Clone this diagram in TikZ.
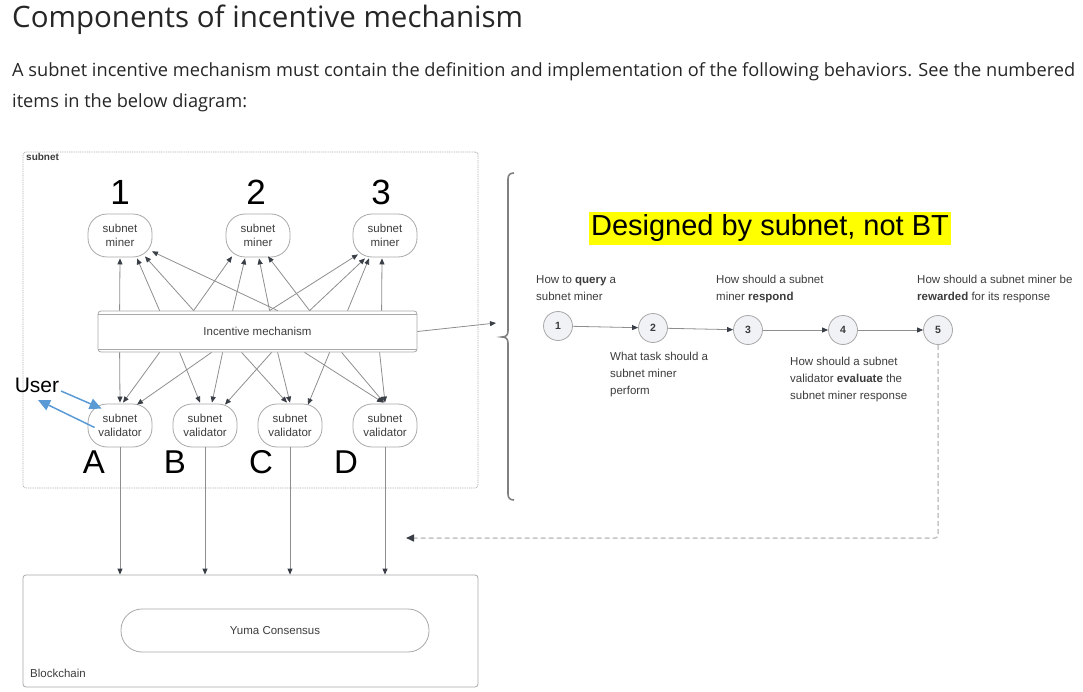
\documentclass[tikz,border=0pt]{standalone}
\usepackage{fontspec}
\setmainfont{Liberation Sans}
\newfontfamily\webfont{Open Sans}
\usetikzlibrary{arrows.meta,calc}
\definecolor{edgegray}{HTML}{8E8E8E}
\definecolor{tipgray}{HTML}{3A3F47}
\definecolor{boxgray}{HTML}{A8A8A8}
\definecolor{txtgray}{HTML}{3C3C3C}
\definecolor{userblue}{HTML}{5B9BD5}
\definecolor{circfill}{HTML}{F1F2F5}
\definecolor{hl}{HTML}{FFFF00}
\begin{document}
\begin{tikzpicture}[x=1pt,y=-1pt,
  edge/.style={draw=edgegray,line width=0.8pt,-{Triangle[length=6pt,width=5pt,color=tipgray]}},
  roundnode/.style={draw=boxgray,line width=0.8pt,rounded corners=19pt,minimum width=64pt,minimum height=43pt,align=center,font=\fontsize{11.5}{14}\selectfont,text=txtgray,inner sep=0pt},
  bignum/.style={font=\fontsize{35}{35}\selectfont,inner sep=0pt,text=black},
  bigletter/.style={font=\fontsize{33}{33}\selectfont,inner sep=0pt,text=black},
  small/.style={font=\fontsize{11.5}{17}\selectfont,text=txtgray,inner sep=0pt,align=left,anchor=north west},
  stepcirc/.style={circle,draw=boxgray,line width=0.8pt,fill=circfill,minimum size=29pt,inner sep=0pt,font=\bfseries\fontsize{10.5}{10.5}\selectfont,text=txtgray},
  useredge/.style={draw=userblue,line width=1.5pt,-{Triangle[length=12pt,width=11pt]}},
  container/.style={draw=boxgray,line width=0.8pt,rounded corners=3pt,inner sep=0pt}
]
\useasboundingbox (0,0) rectangle (1083,692);

% heading
\node[anchor=base west,inner sep=0pt,font=\webfont\fontsize{29.5}{29.5}\selectfont,text=black!85] (title) at (12,28) {Components of incentive mechanism};
\node[anchor=base west,inner sep=0pt,font=\webfont\fontsize{18.2}{18.2}\selectfont,text=black!85] (para1) at (12,77) {A subnet incentive mechanism must contain the definition and implementation of the following behaviors. See the numbered};
\node[anchor=base west,inner sep=0pt,font=\webfont\fontsize{18.2}{18.2}\selectfont,text=black!85] (para2) at (12,108) {items in the below diagram:};

% subnet container
\node[container,draw=boxgray!90,dash pattern=on 1pt off 0.8pt,minimum width=455pt,minimum height=336pt] (subnet) at (250.5,320) {};
\node[anchor=north west,inner sep=0pt,font=\bfseries\fontsize{10}{10}\selectfont,text=txtgray] (subnetlbl) at (26,153) {subnet};

% miners
\node[roundnode] (m1) at (120,235.5) {subnet\\miner};
\node[roundnode] (m2) at (258,235.5) {subnet\\miner};
\node[roundnode] (m3) at (385,235.5) {subnet\\miner};
\node[bignum] (n1) at (120,192) {1};
\node[bignum] (n2) at (256,192) {2};
\node[bignum] (n3) at (381,192) {3};

% incentive mechanism
\node[draw=boxgray,line width=0.8pt,rounded corners=3pt,minimum width=319pt,minimum height=41pt,inner sep=0pt,font=\fontsize{11.5}{14}\selectfont,text=txtgray] (mech) at (257.5,331.5) {Incentive mechanism};
\draw[boxgray,line width=0.8pt] ($(mech.north west)+(0,3.5)$) -- ($(mech.north east)+(0,3.5)$);
\draw[boxgray,line width=0.8pt] ($(mech.south west)+(0,-3.5)$) -- ($(mech.south east)+(0,-3.5)$);

% validators
\node[roundnode] (vA) at (120,425.5) {subnet\\validator};
\node[roundnode] (vB) at (205,425.5) {subnet\\validator};
\node[roundnode] (vC) at (290,425.5) {subnet\\validator};
\node[roundnode] (vD) at (385,425.5) {subnet\\validator};
\node[bigletter] (lA) at (94,462) {A};
\node[bigletter] (lB) at (175,462) {B};
\node[bigletter] (lC) at (261,462) {C};
\node[bigletter] (lD) at (346,462) {D};

% edges mechanism -> miners
\foreach \s/\m/\dx/\dy in {22/m1/0/1, 62/m1/17/1, 96/m1/25/-1, 180/m1/32/-6,
                          96/m2/-26/-1, 135/m2/-13/1, 172/m2/1/1, 212/m2/10/-1,
                          172/m3/-27/-3, 212/m3/-20/1, 250/m3/-16/1, 284/m3/-3/1}
  \draw[edge] ($(mech.north west)+(\s,0)$) -- ($(\m.south)+(\dx,\dy)$);

% edges mechanism -> validators
\foreach \s/\v/\dx/\dy in {22/vA/0/-1, 62/vA/3/-1, 114/vA/17/1,
                          82/vB/-5/-1, 125/vB/7/-1, 174/vB/20/1,
                          144/vC/-3/-1, 180/vC/0/-1, 232/vC/18/1,
                          207/vD/-2/-1, 244/vD/-1/-1, 282/vD/0/-1}
  \draw[edge] ($(mech.south west)+(\s,0)$) -- ($(\v.north)+(\dx,\dy)$);

% blockchain
\node[container,minimum width=455pt,minimum height=112pt] (chain) at (250.5,631) {};
\node[draw=boxgray,line width=0.8pt,rounded corners=21pt,minimum width=308pt,minimum height=43pt,inner sep=0pt,font=\fontsize{11.5}{14}\selectfont,text=txtgray] (yuma) at (275,630.5) {Yuma Consensus};
\node[anchor=base west,inner sep=0pt,font=\fontsize{11.5}{14}\selectfont,text=txtgray] (chainlbl) at (30,677) {Blockchain};
\foreach \v in {vA,vB,vC,vD}
  \draw[edge] (\v.south) -- (\v.south |- chain.north);

% user
\node[inner sep=0pt,font=\fontsize{21}{21}\selectfont,text=black] (user) at (37,385) {User};
\coordinate (uout) at (61,391);
\coordinate (uin) at (38,400);
\draw[useredge] (uout) -- ($(vA.north west)+(14,5)$);
\draw[useredge] ($(vA.west)+(7,2)$) -- (uin);

% brace
\coordinate (bracetip) at (496,323);
\draw[edge] (mech.east) -- (bracetip);
\draw[draw=edgegray!90!black,line width=1.6pt] (514,173) .. controls (510,173) and (508,175) .. (508,179) -- (508,331) .. controls (508,335) and (506,337) .. (502,337) .. controls (506,337) and (508,339) .. (508,343) -- (508,494) .. controls (508,498) and (510,500) .. (514,500);

% designed by
\node[fill=hl,minimum width=362pt,minimum height=33pt,inner sep=0pt,font=\fontsize{29}{29}\selectfont,text=black] (designed) at (770,228.5) {Designed by subnet, not BT};

% steps
\node[stepcirc] (c1) at (558,326) {1};
\node[stepcirc] (c2) at (653,328) {2};
\node[stepcirc] (c3) at (748,330) {3};
\node[stepcirc] (c4) at (843,330) {4};
\node[stepcirc] (c5) at (938,330) {5};
\draw[edge] (c1) -- (c2);
\draw[edge] (c2) -- (c3);
\draw[edge] (c3) -- (c4);
\draw[edge] (c4) -- (c5);

\node[small] (t1) at (536,275) {How to \textbf{query} a\\subnet miner};
\node[small] (t3) at (716,275) {How should a subnet\\miner \textbf{respond}};
\node[small] (t5) at (917,275) {How should a subnet miner be\\\textbf{rewarded} for its response};
\node[small] (t2) at (610,352) {What task should a\\subnet miner\\perform};
\node[small] (t4) at (790,357) {How should a subnet\\validator \textbf{evaluate} the\\subnet miner response};

% feedback
\coordinate (fb) at (406,538);
\draw[draw=black!22,line width=1.5pt,dash pattern=on 5pt off 3pt,rounded corners=3pt,-{Triangle[length=8pt,width=7pt,color=tipgray]}] (c5.south) |- (fb);
\end{tikzpicture}
\end{document}
